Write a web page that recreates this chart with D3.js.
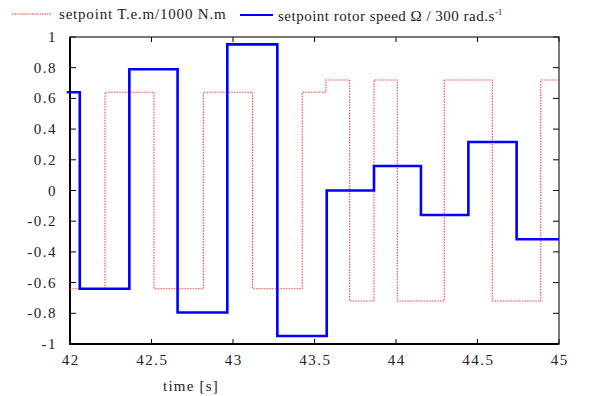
<!DOCTYPE html>
<html><head><meta charset="utf-8">
<script src="https://cdn.jsdelivr.net/npm/d3@7"></script>
<style>
body{margin:0;background:#fff;}
text{font-family:"Liberation Serif","Times New Roman",serif;fill:#222;}
</style></head>
<body><svg id="c" width="613" height="396"></svg>
<script>
const xTicks = [42, 42.5, 43, 43.5, 44, 44.5, 45];
const yTicks = [-1, -0.8, -0.6, -0.4, -0.2, 0, 0.2, 0.4, 0.6, 0.8, 1];
const speedTimes  = [41.98, 42.06, 42.364, 42.66, 42.965, 43.272, 43.575, 43.865, 44.153, 44.444, 44.74, 45];
const speedValues = [0.64, -0.64, 0.79, -0.795, 0.952, -0.948, 0.0, 0.16, -0.16, 0.316, -0.318, -0.318];
const torqueTimes  = [42, 42.215, 42.515, 42.818, 43.12, 43.425, 43.57, 43.716, 43.865, 44.008, 44.296, 44.591, 44.888, 45];
const torqueValues = [-0.64, 0.64, -0.64, 0.64, -0.64, 0.64, 0.72, -0.72, 0.72, -0.72, 0.72, -0.72, 0.72, 0.72];

const svg = d3.select("#c");
const L = 70, R = 559, T = 37, B = 344;
const x = d3.scaleLinear().domain([42, 45]).range([L, R]);
const y = d3.scaleLinear().domain([-1, 1]).range([B, T]);

const g = svg.append("g");
xTicks.forEach(t => {
  g.append("line").attr("x1", x(t)).attr("x2", x(t)).attr("y1", B).attr("y2", B - 5).attr("stroke", "#000");
  g.append("line").attr("x1", x(t)).attr("x2", x(t)).attr("y1", T).attr("y2", T + 5).attr("stroke", "#000");
  g.append("text").attr("x", x(t) + 0.75).attr("y", B + 21).attr("text-anchor", "middle")
    .attr("font-size", 15).attr("letter-spacing", 1.5).text(t);
});
yTicks.forEach(t => {
  g.append("line").attr("x1", L).attr("x2", L + 6).attr("y1", y(t)).attr("y2", y(t)).attr("stroke", "#000");
  g.append("line").attr("x1", R).attr("x2", R - 6).attr("y1", y(t)).attr("y2", y(t)).attr("stroke", "#000");
  g.append("text").attr("x", L - 13).attr("y", y(t) + 5).attr("text-anchor", "end")
    .attr("font-size", 15).attr("letter-spacing", 1.5).text(t);
});

svg.append("rect").attr("x", L).attr("y", T).attr("width", R - L).attr("height", B - T)
  .attr("fill", "none").attr("stroke", "#222").attr("stroke-width", 1.2);
svg.append("line").attr("x1", L).attr("x2", L).attr("y1", T).attr("y2", B + 1).attr("stroke", "#000").attr("stroke-width", 2);
svg.append("line").attr("x1", L - 1).attr("x2", R).attr("y1", B).attr("y2", B).attr("stroke", "#000").attr("stroke-width", 2);

const line = d3.line().curve(d3.curveStepAfter).x(d => x(d[0])).y(d => y(d[1]));
const torque = torqueTimes.map((t, i) => [t, torqueValues[i]]);
const speed = speedTimes.map((t, i) => [t, speedValues[i]]);

svg.append("path").attr("d", line(torque)).attr("fill", "none")
  .attr("stroke", "#ff4040").attr("stroke-width", 1.1).attr("stroke-dasharray", "1.5,1.2");
svg.append("path").attr("d", line(speed)).attr("fill", "none")
  .attr("stroke", "#00f").attr("stroke-width", 2.6);

svg.append("line").attr("x1", 12).attr("x2", 52).attr("y1", 14).attr("y2", 14)
  .attr("stroke", "#ff3030").attr("stroke-width", 1).attr("stroke-dasharray", "1.5,1");
svg.append("text").attr("x", 59).attr("y", 19).attr("font-size", 15).attr("letter-spacing", 0.8)
  .text("setpoint T.e.m/1000 N.m");
svg.append("line").attr("x1", 240).attr("x2", 273).attr("y1", 15).attr("y2", 15)
  .attr("stroke", "#00f").attr("stroke-width", 2.2);
const lt = svg.append("text").attr("x", 278).attr("y", 21).attr("font-size", 15).attr("letter-spacing", 0.5);
lt.append("tspan").text("setpoint rotor speed Ω  / 300 rad.s");
lt.append("tspan").attr("font-size", 9).attr("dy", -6).attr("letter-spacing", 0).text("-1");

svg.append("text").attr("x", 191).attr("y", 391).attr("text-anchor", "middle")
  .attr("font-size", 15).attr("letter-spacing", 1.2).text("time [s]");
</script></body></html>
